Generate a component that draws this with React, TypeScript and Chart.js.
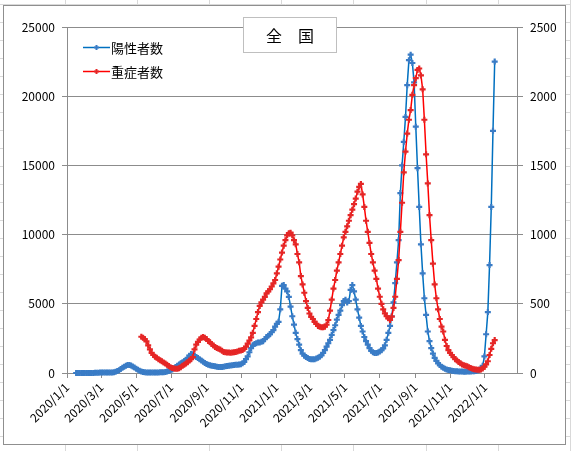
import React, { useEffect, useRef } from 'react';
import { Chart, registerables } from 'chart.js';

Chart.register(...registerables);

const chartTitle = '全　国';
const seriesNames = ['陽性者数', '重症者数'];
const tickLabels = [
  '2020/1/1', '2020/3/1', '2020/5/1', '2020/7/1', '2020/9/1', '2020/11/1',
  '2021/1/1', '2021/3/1', '2021/5/1', '2021/7/1', '2021/9/1', '2021/11/1', '2022/1/1',
];
const axisStart = '2020/1/1';
const axisEnd = '2022/2/26';
const stepDays = 3;
const leftMax = 25000;
const leftStep = 5000;
const rightMax = 2500;
const rightStep = 500;

// 陽性者数 (left axis), every 3 days from 2020/1/17
const positiveStart = '2020/1/17';
const positiveValues = [
  1, 1, 1, 2, 2, 2, 2, 3, 4, 5,
  8, 12, 18, 25, 30, 35, 40, 45, 45, 42,
  40, 45, 60, 90, 140, 200, 290, 380, 450, 520,
  570, 580, 540, 470, 390, 300, 230, 160, 110, 70,
  50, 40, 35, 35, 35, 35, 40, 45, 45, 50,
  50, 55, 70, 100, 140, 190, 260, 340, 430, 530,
  620, 700, 780, 860, 930, 1100, 1250, 1370, 1350, 1250,
  1150, 1080, 1000, 900, 820, 730, 650, 600, 560, 530,
  500, 480, 460, 440, 430, 440, 460, 480, 500, 520,
  540, 560, 580, 590, 600, 620, 640, 700, 800, 1000,
  1200, 1500, 1800, 2000, 2100, 2150, 2200, 2200, 2250, 2300,
  2450, 2600, 2700, 2800, 2950, 3100, 3350, 3550, 3700, 4600,
  6300, 6350, 6100, 5900, 5500, 4800, 4100, 3500, 2900, 2450,
  2050, 1650, 1400, 1250, 1150, 1080, 1020, 990, 990, 1000,
  1050, 1100, 1180, 1280, 1450, 1650, 1900, 2150, 2400, 2750,
  3100, 3450, 3850, 4200, 4500, 4900, 5200, 5300, 5100, 5200,
  6000, 6350, 5900, 5300, 4600, 4000, 3400, 3000, 2600, 2300,
  2050, 1800, 1600, 1500, 1450, 1450, 1480, 1550, 1650, 1780,
  2000, 2400, 2900, 3400, 4100, 5100, 6500, 8000, 9600, 13000,
  15000, 16700, 18500, 20800, 22600, 23000, 22400, 21000, 17800, 14800,
  12000, 9300, 7200, 5400, 4200, 3000, 2300, 1800, 1400, 1100,
  880, 700, 570, 460, 380, 310, 260, 220, 190, 160,
  140, 130, 120, 110, 100, 100, 95, 95, 100, 105,
  110, 120, 130, 150, 180, 230, 320, 520, 1200, 2800,
  4400, 7800, 12000, 17500, 22500,
];

// 重症者数 (right axis), every 3 days from 2020/5/10
const severeStart = '2020/5/10';
const severeValues = [
  262, 255, 245, 228, 200, 170, 145, 130, 118, 110,
  100, 92, 85, 75, 68, 60, 50, 42, 36, 33,
  30, 30, 35, 42, 52, 60, 68, 78, 90, 100,
  115, 170, 205, 225, 242, 255, 260, 255, 245, 232,
  222, 210, 198, 188, 180, 175, 170, 160, 152, 150,
  148, 148, 147, 148, 150, 152, 155, 160, 163, 166,
  175, 190, 212, 235, 258, 290, 340, 390, 440, 485,
  510, 530, 550, 575, 590, 605, 625, 648, 672, 720,
  768, 820, 870, 920, 960, 995, 1010, 1014, 995, 960,
  930, 860, 800, 700, 640, 580, 520, 470, 430, 405,
  390, 370, 355, 340, 335, 330, 330, 335, 350, 383,
  450, 530, 610, 672, 740, 800, 860, 920, 980, 1020,
  1060, 1100, 1140, 1180, 1220, 1260, 1310, 1345, 1366, 1290,
  1200, 1100, 1020, 940, 860, 800, 740, 680, 610, 551,
  500, 460, 431, 410, 395, 383, 407, 470, 551, 680,
  816, 1020, 1230, 1450, 1600, 1730, 1830, 1900, 2010, 2080,
  2130, 2190, 2200, 2150, 2050, 1830, 1580, 1370, 1140, 960,
  790, 640, 540, 460, 390, 335, 300, 240, 195, 166,
  145, 130, 115, 100, 90, 80, 70, 62, 56, 52,
  48, 42, 36, 30, 27, 25, 23, 23, 26, 32,
  45, 62, 85, 130, 175, 215, 238,
];

const BLUE_LINE = '#0070c0';
const BLUE_MARK = '#3a7cc6';
const RED_LINE = '#ff0000';
const RED_MARK = '#e52626';
const GRID = '#8c8c8c';
const FONT = '"Noto Sans CJK JP", "Noto Sans", sans-serif';

function dayIndex(s: string): number {
  const [y, m, d] = s.split('/').map(Number);
  const [y0, m0, d0] = axisStart.split('/').map(Number);
  return Math.round((Date.UTC(y, m - 1, d) - Date.UTC(y0, m0 - 1, d0)) / 86400000);
}

function toPoints(start: string, values: number[]) {
  const s = dayIndex(start);
  return values.map((v, i) => ({ x: s + i * stepDays, y: v }));
}

const tickDays = tickLabels.map(dayIndex);

function drawPlus(ctx: CanvasRenderingContext2D, x: number, y: number, r: number, color: string) {
  ctx.save();
  ctx.strokeStyle = color;
  ctx.lineWidth = 2;
  ctx.beginPath();
  ctx.moveTo(x - r, y);
  ctx.lineTo(x + r, y);
  ctx.moveTo(x, y - r);
  ctx.lineTo(x, y + r);
  ctx.stroke();
  ctx.restore();
}

const framePlugin = {
  id: 'frame',
  beforeDraw(chart: any) {
    const ctx: CanvasRenderingContext2D = chart.ctx;
    const w = chart.width;
    const h = chart.height;
    ctx.save();
    ctx.fillStyle = '#ffffff';
    ctx.fillRect(0, 0, w, h);
    // spreadsheet cell lines behind the chart
    ctx.strokeStyle = '#d9d9d9';
    ctx.lineWidth = 1;
    ctx.beginPath();
    for (let x = 65; x < w; x += 72.1) {
      ctx.moveTo(Math.round(x) + 0.5, 0);
      ctx.lineTo(Math.round(x) + 0.5, h);
    }
    for (let y = 4; y < h; y += 18) {
      ctx.moveTo(0, Math.round(y) + 0.5);
      ctx.lineTo(w, Math.round(y) + 0.5);
    }
    ctx.stroke();
    // chart area box
    ctx.fillStyle = '#ffffff';
    ctx.fillRect(3, 5, 563, 440);
    ctx.strokeStyle = '#8f8f8f';
    ctx.strokeRect(3.5, 5.5, 562, 439);
    ctx.restore();
  },
  afterDraw(chart: any) {
    const ctx: CanvasRenderingContext2D = chart.ctx;
    ctx.save();
    // title box
    ctx.fillStyle = '#ffffff';
    ctx.fillRect(243, 17, 94, 36);
    ctx.strokeStyle = '#bfbfbf';
    ctx.lineWidth = 1;
    ctx.strokeRect(243.5, 17.5, 93, 35);
    ctx.fillStyle = '#000000';
    ctx.font = `16px ${FONT}`;
    ctx.textAlign = 'center';
    ctx.textBaseline = 'middle';
    ctx.fillText(chartTitle, 290, 36);
    // legend
    const items = [
      { name: seriesNames[0], line: BLUE_LINE, mark: BLUE_MARK, y: 47 },
      { name: seriesNames[1], line: RED_LINE, mark: RED_MARK, y: 71 },
    ];
    ctx.font = `13px ${FONT}`;
    ctx.textAlign = 'left';
    items.forEach((it) => {
      ctx.strokeStyle = it.line;
      ctx.lineWidth = 1.5;
      ctx.beginPath();
      ctx.moveTo(83, it.y + 0.5);
      ctx.lineTo(110, it.y + 0.5);
      ctx.stroke();
      drawPlus(ctx, 96.5, it.y + 0.5, 2.5, it.mark);
      ctx.fillStyle = '#000000';
      ctx.fillText(it.name, 111, it.y + 1);
    });
    ctx.restore();
  },
};

export default function App() {
  const ref = useRef<HTMLCanvasElement | null>(null);
  useEffect(() => {
    document.body.style.margin = '0';
    if (!ref.current) return;
    const chart = new Chart(ref.current, {
      type: 'line',
      data: {
        datasets: [
          {
            label: seriesNames[0],
            data: toPoints(positiveStart, positiveValues),
            yAxisID: 'y',
            borderColor: BLUE_LINE,
            backgroundColor: BLUE_MARK,
            pointBorderColor: BLUE_MARK,
            pointStyle: 'cross',
            pointRadius: 3,
            pointBorderWidth: 2.2,
            borderWidth: 1.5,
            tension: 0,
            order: 2,
            clip: false as any,
          },
          {
            label: seriesNames[1],
            data: toPoints(severeStart, severeValues),
            yAxisID: 'y1',
            borderColor: RED_LINE,
            backgroundColor: RED_MARK,
            pointBorderColor: RED_MARK,
            pointStyle: 'cross',
            pointRadius: 3,
            pointBorderWidth: 2.2,
            borderWidth: 1.5,
            tension: 0,
            order: 1,
            clip: false as any,
          },
        ],
      },
      options: {
        animation: false,
        responsive: true,
        maintainAspectRatio: false,
        events: [],
        layout: { padding: { top: 27, left: 0, right: 0, bottom: 0 } },
        plugins: { legend: { display: false }, tooltip: { enabled: false }, title: { display: false } },
        scales: {
          x: {
            type: 'linear',
            min: 0,
            max: dayIndex(axisEnd),
            afterBuildTicks: (scale: any) => {
              scale.ticks = tickDays.map((v) => ({ value: v }));
            },
            afterFit: (scale: any) => {
              scale.height = 78;
            },
            ticks: {
              autoSkip: false,
              maxRotation: 45,
              minRotation: 45,
              padding: 2,
              color: '#000000',
              font: { family: FONT, size: 12 },
              callback: (v: any) => {
                const i = tickDays.indexOf(Number(v));
                return i >= 0 ? tickLabels[i] : '';
              },
            },
            grid: { display: true, drawOnChartArea: false, drawTicks: true, tickLength: 5, color: GRID },
            border: { display: true, color: GRID },
          },
          y: {
            type: 'linear',
            position: 'left',
            min: 0,
            max: leftMax,
            afterFit: (scale: any) => {
              scale.width = 67;
            },
            ticks: {
              stepSize: leftStep,
              padding: 7,
              color: '#000000',
              font: { family: FONT, size: 12 },
              callback: (v: any) => String(v),
            },
            grid: { color: GRID, tickLength: 5, lineWidth: 1 },
            border: { display: true, color: GRID },
          },
          y1: {
            type: 'linear',
            position: 'right',
            min: 0,
            max: rightMax,
            afterFit: (scale: any) => {
              scale.width = 54;
            },
            ticks: {
              stepSize: rightStep,
              padding: 7,
              color: '#000000',
              font: { family: FONT, size: 12 },
              callback: (v: any) => String(v),
            },
            grid: { drawOnChartArea: false, color: GRID, tickLength: 6 },
            border: { display: true, color: GRID },
          },
        },
      },
      plugins: [framePlugin],
    } as any);
    return () => chart.destroy();
  }, []);
  return (
    <div style={{ position: 'fixed', left: 0, top: 0, width: 571, height: 451 }}>
      <canvas ref={ref} />
    </div>
  );
}
